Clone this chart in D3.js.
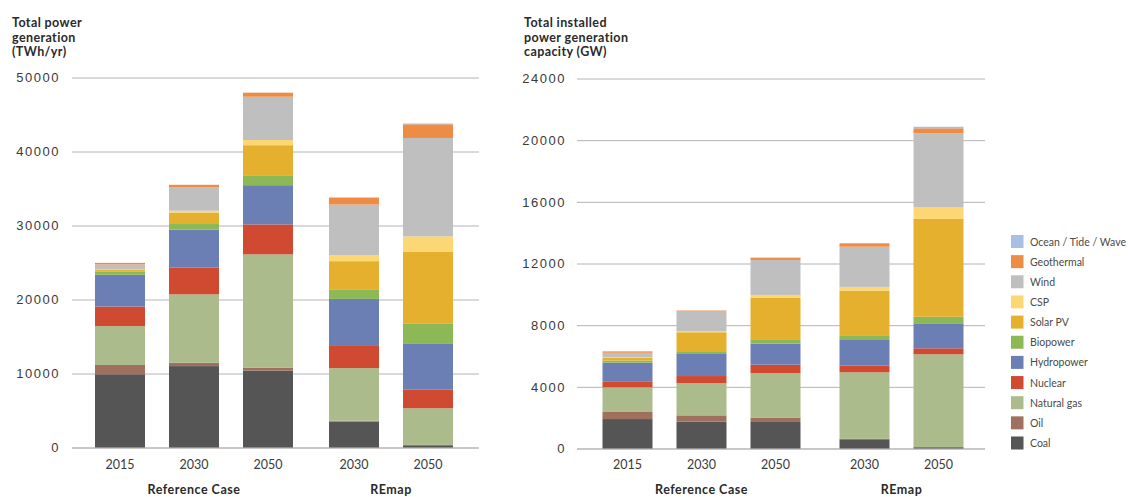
<!DOCTYPE html>
<html>
<head>
<meta charset="utf-8">
<script src="https://cdn.jsdelivr.net/npm/d3@7"></script>
<style>
  html, body { margin: 0; padding: 0; background: #ffffff; }
  svg { display: block; font-family: Lato, "Open Sans", sans-serif; }
</style>
</head>
<body>
<svg id="chart" width="1128" height="497"></svg>
<script>
// ---------- DATA ----------
const categories = ["2015", "2030", "2050", "2030", "2050"];
const groups = ["Reference Case", "Reference Case", "Reference Case", "REmap", "REmap"];
const groupNames = ["Reference Case", "REmap"];
const seriesNames = ["Coal", "Oil", "Natural gas", "Nuclear", "Hydropower", "Biopower",
                     "Solar PV", "CSP", "Wind", "Geothermal", "Ocean / Tide / Wave"];
const seriesColors = ["#555555", "#a0705f", "#abbb8b", "#d04a32", "#6c7fb5", "#8cb855",
                      "#e5b02d", "#fcd773", "#bfbfbf", "#ee8c46", "#a6bfe2"];

// Total power generation (TWh/yr)
const genCoal       = [9900, 11000, 10400, 3500, 300];
const genOil        = [1250, 450, 400, 130, 50];
const genGas        = [5250, 9250, 15300, 7100, 4950];
const genNuclear    = [2650, 3600, 4050, 3100, 2500];
const genHydro      = [4300, 5150, 5300, 6250, 6280];
const genBio        = [400, 750, 1250, 1300, 2700];
const genSolarPV    = [250, 1550, 4150, 3800, 9650];
const genCSP        = [50, 250, 700, 800, 2100];
const genWind       = [700, 3150, 5850, 6850, 13300];
const genGeo        = [200, 350, 550, 950, 1850];
const genOcean      = [0, 0, 0, 0, 100];

// Total installed power generation capacity (GW)
const capCoal       = [1910, 1740, 1720, 600, 80];
const capOil        = [460, 410, 290, 30, 20];
const capGas        = [1600, 2080, 2870, 4310, 6010];
const capNuclear    = [390, 470, 560, 430, 390];
const capHydro      = [1210, 1430, 1360, 1670, 1620];
const capBio        = [130, 130, 240, 260, 430];
const capSolarPV    = [170, 1280, 2750, 2940, 6340];
const capCSP        = [60, 60, 170, 240, 750];
const capWind       = [280, 1320, 2270, 2610, 4800];
const capGeo        = [90, 30, 150, 220, 330];
const capOcean      = [0, 0, 0, 0, 100];

const genTicks = [0, 10000, 20000, 30000, 40000, 50000];
const capTicks = [0, 4000, 8000, 12000, 16000, 20000, 24000];

const genTitle = ["Total power", "generation", "(TWh/yr)"];
const capTitle = ["Total installed", "power generation", "capacity (GW)"];

const genSeries = [genCoal, genOil, genGas, genNuclear, genHydro, genBio, genSolarPV, genCSP, genWind, genGeo, genOcean];
const capSeries = [capCoal, capOil, capGas, capNuclear, capHydro, capBio, capSolarPV, capCSP, capWind, capGeo, capOcean];

// ---------- DRAW ----------
const svg = d3.select("#chart");

function buildRows(seriesArr) {
  return categories.map((c, i) => {
    const row = { key: i, cat: c, group: groups[i] };
    seriesNames.forEach((s, j) => row[s] = seriesArr[j][i]);
    return row;
  });
}

function drawChart(cfg) {
  const rows = buildRows(cfg.series);
  const stack = d3.stack().keys(seriesNames)(rows);

  const y = d3.scaleLinear().domain([0, cfg.max]).range([cfg.y0, cfg.y1]);
  const x = d3.scaleBand().domain(rows.map(r => r.key))
    .range([cfg.barStart, cfg.barStart + 4 * cfg.step + cfg.barW])
    .paddingInner((cfg.step - cfg.barW) / cfg.step).paddingOuter(0);
  const xPos = i => x(i) + (groups[i] === "REmap" ? cfg.gap : 0);

  const g = svg.append("g");

  // gridlines + tick labels
  const axis = d3.axisLeft(y).tickValues(cfg.ticks).tickSize(-(cfg.gridR - cfg.gridL))
    .tickFormat(d3.format("d")).tickPadding(12);
  const ax = g.append("g").attr("transform", `translate(${cfg.gridL},0)`).call(axis);
  ax.select(".domain").remove();
  ax.selectAll(".tick line").attr("stroke", d => d === 0 ? "#c8c8c8" : "#b4b4b4")
    .attr("stroke-width", d => d === 0 ? 2 : 1);
  ax.selectAll(".tick text").attr("fill", "#3a3a3a").style("font-size", "13px")
    .style("letter-spacing", "1.5px")
    .attr("x", cfg.labelX - cfg.gridL).attr("dx", 0);

  // bars
  g.append("g").selectAll("g").data(stack).join("g")
    .attr("fill", (d, i) => seriesColors[i])
    .selectAll("rect").data(d => d).join("rect")
    .attr("x", d => xPos(d.data.key))
    .attr("width", x.bandwidth())
    .attr("y", d => y(d[1]))
    .attr("height", d => Math.max(0, y(d[0]) - y(d[1])));

  // category labels
  g.append("g").selectAll("text").data(rows).join("text")
    .attr("x", d => xPos(d.key) + x.bandwidth() / 2)
    .attr("y", 469)
    .attr("text-anchor", "middle")
    .attr("fill", "#3a3a3a").style("font-size", "12.5px")
    .text(d => d.cat);

  // group labels
  groupNames.forEach(gn => {
    const idx = rows.filter(r => r.group === gn).map(r => xPos(r.key) + x.bandwidth() / 2);
    g.append("text").attr("x", d3.mean([d3.min(idx), d3.max(idx)])).attr("y", 494)
      .attr("text-anchor", "middle").attr("fill", "#2a2a2a")
      .style("font-size", "12.5px").style("font-weight", "bold")
      .style("letter-spacing", "0.5px").text(gn);
  });

  // title
  g.append("text").attr("x", cfg.titleX).attr("y", 27)
    .attr("fill", "#2a2a2a").style("font-size", "12.5px").style("font-weight", "bold")
    .style("letter-spacing", "0.4px")
    .selectAll("tspan").data(cfg.title).join("tspan")
    .attr("x", cfg.titleX).attr("dy", (d, i) => i === 0 ? 0 : 14.5).text(d => d);
}

drawChart({ series: genSeries, max: 50000, ticks: genTicks, y0: 447.5, y1: 77.5,
  gridL: 72, gridR: 479, labelX: 60, barStart: 95, barW: 50, step: 74, gap: 12,
  title: genTitle, titleX: 12 });

drawChart({ series: capSeries, max: 24000, ticks: capTicks, y0: 448.5, y1: 78.5,
  gridL: 577, gridR: 985, labelX: 566, barStart: 602.5, barW: 50, step: 74, gap: 15,
  title: capTitle, titleX: 524 });

// legend
const legendItems = seriesNames.map((s, i) => ({ name: s, color: seriesColors[i] })).reverse();
const lg = svg.append("g").attr("transform", "translate(1011,235)");
const li = lg.selectAll("g").data(legendItems).join("g")
  .attr("transform", (d, i) => `translate(0,${i * 20.15})`);
li.append("rect").attr("width", 12.5).attr("height", 13).attr("fill", d => d.color);
li.append("text").attr("x", 19).attr("y", 10.5).attr("fill", "#4a4a4a")
  .style("font-size", "10.5px").text(d => d.name);
</script>
</body>
</html>
